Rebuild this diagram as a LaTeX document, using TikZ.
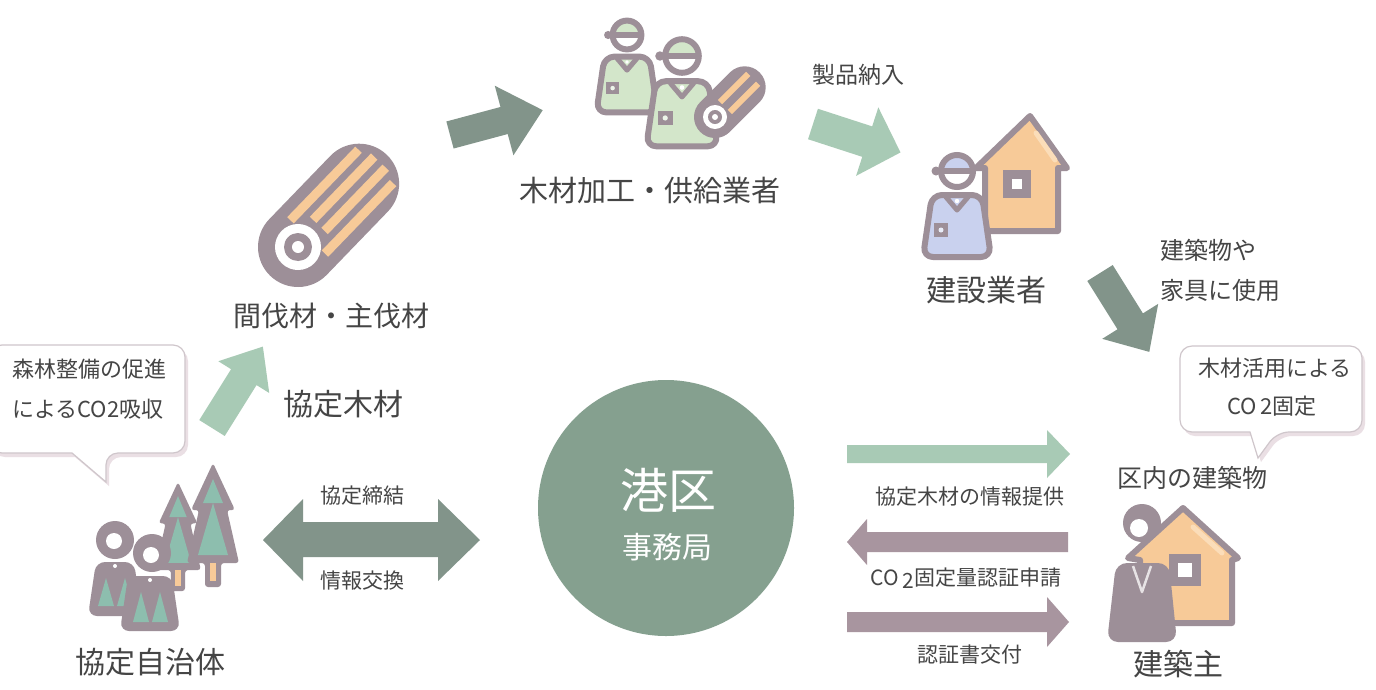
\documentclass[tikz,border=0pt]{standalone}
\usepackage{fontspec}
\setmainfont{Noto Sans CJK JP}
\usetikzlibrary{calc}

\definecolor{iconO}{HTML}{9D8F98}
\definecolor{darkarr}{HTML}{82948A}
\definecolor{lightarr}{HTML}{A8CAB5}
\definecolor{purparr}{HTML}{A8959F}
\definecolor{hubfill}{HTML}{85A08F}
\definecolor{wood}{HTML}{F7CA98}
\definecolor{woodlight}{HTML}{FBDDB9}
\definecolor{leaf}{HTML}{8DBEAE}
\definecolor{mint}{HTML}{D3E6CA}
\definecolor{sky}{HTML}{C9D1EE}
\definecolor{txt}{HTML}{454545}
\definecolor{bubbleline}{HTML}{CFC6CB}
\definecolor{bubbleshade}{HTML}{EADFE4}

% block arrow: start, angle, length, shaft half width, head half width, head length, colour
\newcommand{\blockarr}[7]{%
  \fill[#7, shift={#1}, rotate=#2] (0,-#4) -- ({#3-#6},-#4) -- ({#3-#6},-#5) -- (#3,0)
    -- ({#3-#6},#5) -- ({#3-#6},#4) -- (0,#4) -- cycle;}

\tikzset{
  iconline/.style={draw=iconO, line width=6pt, line join=round},
  lbl/.style={font=\fontsize{30}{36}\selectfont},
  midlbl/.style={font=\fontsize{24}{29}\selectfont},
  smalllbl/.style={font=\fontsize{21}{26}\selectfont},
  bubbletxt/.style={font=\fontsize{22}{27}\selectfont},
  % worker with helmet; #1 = clothing colour
  worker/.pic={
    \filldraw[iconline, fill=#1, rounded corners=10] (-34,86) -- (-25,24) -- (25,24) -- (34,86) -- cycle;
    \draw[iconO, line width=5pt, line join=round, line cap=round] (-11,26) -- (0,39) -- (11,26);
    \fill[white] (0,30) circle (2.2);
    \fill[iconO] (-23,52) rectangle (-9,66);
    \fill[white!60!#1] (-16,59) circle (2.5);
    \fill[white] (0,0) circle (17);
    \fill[#1] (-17,0) arc[start angle=180, end angle=360, radius=17] -- cycle;
    \fill[iconO] (-17,-3) rectangle (17,3);
    \fill[iconO] (-21,0) circle (4.5);
    \draw[iconO, line width=6pt] (0,0) circle (16);
  },
  spruce/.pic={
    \fill[iconO, rounded corners=3] (0,0) -- (22,47) -- (14,47) -- (26,100) -- (8,100) -- (8,124)
      -- (-8,124) -- (-8,100) -- (-26,100) -- (-14,47) -- (-22,47) -- cycle;
    \fill[leaf] (0,16) -- (10,40) -- (-10,40) -- cycle;
    \fill[leaf] (0,40) -- (15,92) -- (-15,92) -- cycle;
    \fill[wood] (-3,100) rectangle (3,118);
  }
}

\begin{document}
\begin{tikzpicture}[x=1pt, y=-1pt, every node/.style={text=txt, inner sep=0pt}]
\useasboundingbox (0,0) rectangle (1376,689);
\fill[white] (0,0) rectangle (1376,689);

% ---------- speech bubbles ----------
\fill[bubbleshade, shift={(3,4)}] (72,453) {[rounded corners=12] -- (-10,453) -- (-10,345) -- (185,345) -- (185,453) -- (106,453)} -- (106,482) -- cycle;
\filldraw[fill=white, draw=bubbleline, line width=1.2pt] (72,453) {[rounded corners=12] -- (-10,453) -- (-10,345) -- (185,345) -- (185,453) -- (106,453)} -- (106,482) -- cycle;
\node[bubbletxt, anchor=west] (forest1) at (12,369) {森林整備の促進};
\node[bubbletxt, anchor=west] (forest2) at (12,409) {によるCO2吸収};

\fill[bubbleshade, shift={(3,4)}] (1250,432) {[rounded corners=12] -- (1180,432) -- (1180,346) -- (1362,346) -- (1362,432) -- (1277,432)} -- (1258,458) -- cycle;
\filldraw[fill=white, draw=bubbleline, line width=1.2pt] (1250,432) {[rounded corners=12] -- (1180,432) -- (1180,346) -- (1362,346) -- (1362,432) -- (1277,432)} -- (1258,458) -- cycle;
\node[bubbletxt] (fix1) at (1275,368) {木材活用による};
\node[bubbletxt] (fix2) at (1272,406) {CO\,2固定};

% ---------- flow arrows ----------
\blockarr{(212,428)}{58}{96}{15}{30}{36}{lightarr}
\blockarr{(450,135)}{15}{96}{14}{36}{40}{darkarr}
\blockarr{(813,124)}{-18}{92}{16}{36}{35}{lightarr}
\blockarr{(1100,273)}{-58}{93}{15}{33}{36}{darkarr}

% double arrow between municipalities and hub
\fill[darkarr] (263,540) -- (303,499) -- (303,522) -- (438,522) -- (438,499) -- (480,540)
  -- (438,581) -- (438,557) -- (303,557) -- (303,581) -- cycle;

% arrows between hub and owners
\fill[lightarr] (847,445) -- (1047,445) -- (1047,430) -- (1070,454) -- (1047,478) -- (1047,463) -- (847,463) -- cycle;
\fill[purparr] (847,542) -- (867,519) -- (867,532) -- (1068,532) -- (1068,552) -- (867,552) -- (867,565) -- cycle;
\fill[purparr] (847,612) -- (1047,612) -- (1047,597) -- (1069,622) -- (1047,647) -- (1047,632) -- (847,632) -- cycle;

% ---------- hub ----------
\node[circle, fill=hubfill, minimum size=256pt] (hub) at (666,508) {};
\node[text=white, font=\fontsize{48}{56}\selectfont] (hubname) at (668,490) {港区};
\node[text=white, font=\fontsize{30}{36}\selectfont] (hubsub) at (667,547) {事務局};

% ---------- log (thinned / harvested timber) ----------
\begin{scope}[shift={(298,247)}, rotate=46]
  \draw[iconO, line width=80pt, line cap=round] (0,0) -- (88,0);
  \foreach \o/\s/\e in {-24/14/112, -8/30/118, 8/30/118, 24/14/112}
    \draw[wood, line width=9pt] (\s,\o) -- (\e,\o);
  \fill[white] (0,0) circle (23);
  \fill[iconO] (0,0) circle (14);
  \fill[white] (0,0) circle (6);
\end{scope}

% ---------- processors ----------
\pic[scale=0.9] at (627,35) {worker=mint};
\pic[scale=1.05] at (682,56) {worker=mint};
\begin{scope}[shift={(715,117)}, rotate=45]
  \draw[iconO, line width=42pt, line cap=round] (0,0) -- (42,0);
  \foreach \o in {-7,7}
    \draw[wood, line width=6pt] (14,\o) -- (54,\o);
  \fill[white] (0,0) circle (12);
  \fill[iconO] (0,0) circle (7);
  \fill[white] (0,0) circle (3);
\end{scope}

% ---------- builder ----------
\filldraw[iconline, fill=wood] (1030,116) -- (1067,168) -- (1058,168) -- (1058,231) -- (985,231) -- (985,168) -- (976,168) -- cycle;
\draw[woodlight, line width=5pt, line cap=round] (1036,133) -- (1055,160);
\fill[iconO] (1003,170) rectangle (1031,198);
\fill[white] (1012,179) rectangle (1022,189);
\pic at (957,171) {worker=sky};

% ---------- owner ----------
\filldraw[iconline, fill=wood] (1183,508) -- (1238,558) -- (1232,560) -- (1232,623) -- (1140,623) -- (1140,560) -- (1128,558) -- cycle;
\draw[woodlight, line width=5pt, line cap=round] (1193,527) -- (1222,553);
\fill[iconO] (1169,554) rectangle (1201,586);
\fill[white] (1178,563) rectangle (1192,577);
\fill[iconO, rounded corners=11] (1107,642) -- (1116,563) -- (1169,563) -- (1177,642) -- cycle;
\draw[white!75!iconO, line width=2.5pt, line join=round] (1133,566) -- (1142,592) -- (1151,566);
\fill[iconO] (1142,523) circle (19);
\fill[white] (1139,528) circle (9);

% ---------- municipalities ----------
\pic[scale=0.88] at (178,482) {spruce};
\pic at (213,463) {spruce};
\fill[iconO, rounded corners=9] (88,616) -- (96,562) -- (134,562) -- (142,616) -- cycle;
\fill[leaf] (106,578) -- (114,606) -- (98,606) -- cycle;
\fill[leaf] (125,578) -- (133,606) -- (117,606) -- cycle;
\fill[white] (115,566) circle (2);
\fill[iconO] (115,540) circle (19);
\fill[white] (114,541) circle (8);
\fill[iconO, rounded corners=9] (120,631) -- (128,576) -- (172,576) -- (180,631) -- cycle;
\fill[leaf] (141,592) -- (149,622) -- (133,622) -- cycle;
\fill[leaf] (160,592) -- (168,622) -- (152,622) -- cycle;
\fill[white] (150,580) circle (2);
\fill[iconO] (152,553) circle (19);
\fill[white] (151,555) circle (8);

% ---------- labels ----------
\node[lbl] (town) at (150,662) {協定自治体};
\node[font=\fontsize{28}{34}\selectfont] (timber) at (331,316) {間伐材・主伐材};
\node[lbl] (agreed) at (343,404) {協定木材};
\node[font=\fontsize{29}{35}\selectfont] (proc) at (650,190) {木材加工・供給業者};
\node[font=\fontsize{23}{28}\selectfont] (deliver) at (858,75) {製品納入};
\node[lbl] (builder) at (986,290) {建設業者};
\node[midlbl, anchor=west] (use1) at (1160,250) {建築物や};
\node[midlbl, anchor=west] (use2) at (1160,290) {家具に使用};
\node[font=\fontsize{25}{30}\selectfont] (bldg) at (1192,478) {区内の建築物};
\node[lbl] (owner) at (1178,664) {建築主};
\node[smalllbl] (sign) at (362,496) {協定締結};
\node[smalllbl] (share) at (362,581) {情報交換};
\node[smalllbl] (info) at (970,497) {協定木材の情報提供};
\node[smalllbl] (apply) at (966,578) {CO\,\raisebox{-0.3ex}{2}固定量認証申請};
\node[smalllbl] (cert) at (970,655) {認証書交付};
\end{tikzpicture}
\end{document}
